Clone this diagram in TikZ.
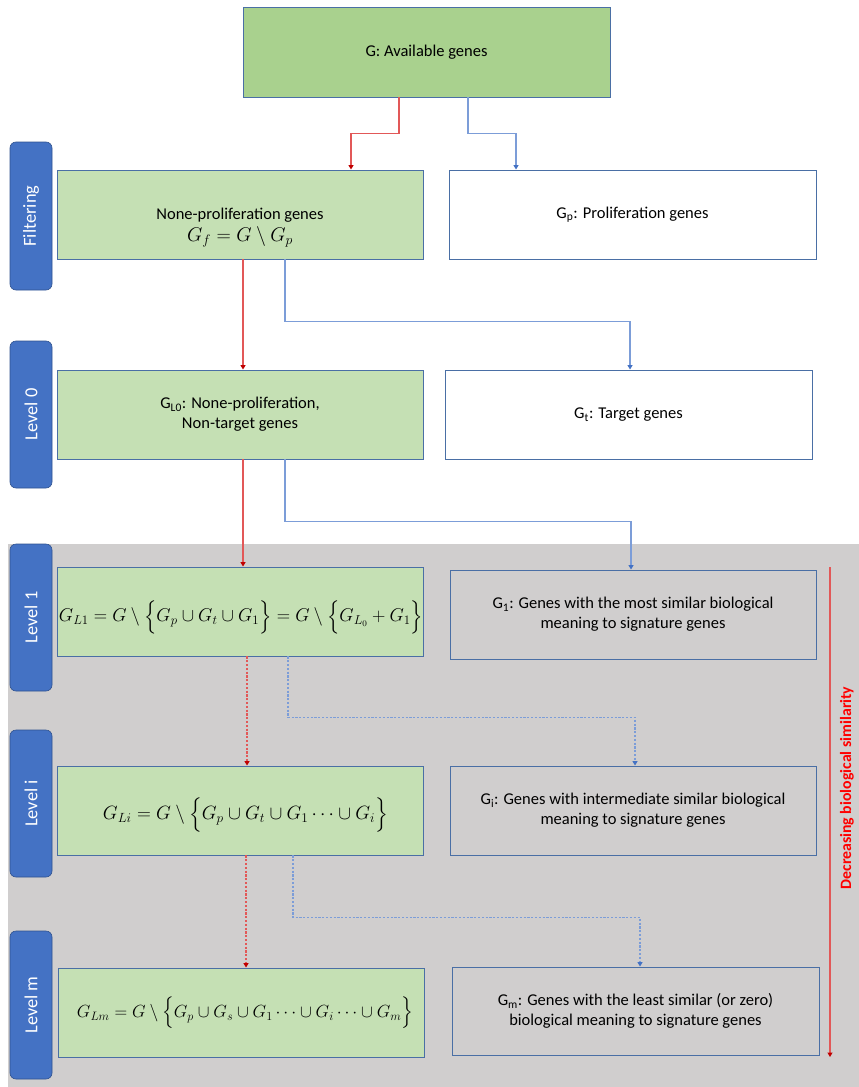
\documentclass[tikz,border=0pt]{standalone}
\usepackage{amsmath}
\usepackage{graphicx}
\usepackage{fontspec}
\setmainfont{Carlito}
\usetikzlibrary{arrows.meta}
\definecolor{boxblue}{HTML}{4A6FA5}
\definecolor{topgreen}{HTML}{A9D18E}
\definecolor{lightgreen}{HTML}{C5E0B4}
\definecolor{tabblue}{HTML}{4472C4}
\definecolor{tabborder}{HTML}{2F528F}
\definecolor{graybg}{HTML}{D0CECE}
\definecolor{redc}{HTML}{E25858}
\definecolor{redtip}{HTML}{C00000}
\definecolor{bluec}{HTML}{7C9DD8}
\definecolor{bluetip}{HTML}{4472C4}
\definecolor{redtext}{HTML}{FF0000}
\begin{document}
\begin{tikzpicture}[x=1pt,y=-1pt,
  gbox/.style={draw=boxblue, line width=0.9pt, inner sep=0pt, align=center,
    minimum width=366pt, minimum height=89pt,
    font=\fontsize{16.5}{20}\selectfont},
  gtop/.style={gbox, fill=topgreen},
  ggreen/.style={gbox, fill=lightgreen},
  gwhite/.style={gbox, fill=white},
  gplain/.style={gbox},
  txt/.style={inner sep=0pt, align=center, font=\fontsize{16.5}{20}\selectfont},
  tab/.style={fill=tabblue, draw=tabborder, line width=0.6pt, rounded corners=6pt,
    rotate=90, minimum height=42pt, inner sep=0pt, text=white,
    font=\fontsize{18.4}{22}\selectfont},
  redarrow/.style={draw=redc, line width=1.1pt, -{Triangle[width=5pt,length=4.5pt,color=redtip]}},
  bluearrow/.style={draw=bluec, line width=1.1pt, -{Triangle[width=5pt,length=4.5pt,color=bluetip]}},
  dotted line/.style={dash pattern=on 2.2pt off 1.6pt}
]
\useasboundingbox (0,0) rectangle (859,1087);
\fill[graybg] (8,544) rectangle (859,1087);

% top box
\node[gtop, minimum width=367pt, minimum height=90pt] (G) at (426.5,52) {G: Available genes};

% tabs
\node[tab, minimum width=148pt] (tF) at (31,216) {Filtering};
\node[tab, minimum width=147pt] (t0) at (31,414.5) {Level 0};
\node[tab, minimum width=147pt] (t1) at (31,617.5) {Level 1};
\node[tab, minimum width=147pt] (ti) at (31,803.5) {Level i};
\node[tab, minimum width=148pt] (tm) at (31,1005) {Level m};

% filtering row
\node[ggreen] (Gf) at (240,214.5) {};
\node[txt] (GfT) at (240,215) {None-proliferation genes};
\node[txt] (GfM) at (240,237) {\resizebox{106pt}{!}{$G_f = G\setminus G_p$}};
\node[gwhite, minimum width=367pt] (Gp) at (632.5,214.5) {G\textsubscript{p}: Proliferation genes};

% level 0
\node[ggreen] (GL0) at (240,414.5) {G\textsubscript{L0}: None-proliferation,\\Non-target genes};
\node[gwhite, minimum width=367pt] (Gt) at (628.5,414.5) {G\textsubscript{t}: Target genes};

% level 1
\node[ggreen] (GL1) at (240,611.5) {};
\node[txt] (GL1M) at (241,617) {\resizebox{364pt}{!}{$G_{L1} = G\setminus \Big\{G_p\cup G_t\cup G_1\Big\} = G\setminus\Big\{G_{L_0}+G_1\Big\}$}};
\node[gplain] (G1) at (633,614.5) {G\textsubscript{1}: Genes with the most similar biological\\meaning to signature genes};

% level i
\node[ggreen] (GLi) at (240,810.5) {};
\node[txt] (GLiM) at (245.5,815) {\resizebox{285pt}{!}{$G_{Li} = G\setminus \Big\{G_p\cup G_t\cup G_1\cdots\cup G_i\Big\}$}};
\node[gplain] (Gi) at (633,810.5) {G\textsubscript{i}: Genes with intermediate similar biological\\meaning to signature genes};

% level m
\node[ggreen] (GLm) at (241,1012.5) {};
\node[txt] (GLmM) at (245,1013) {\resizebox{336pt}{!}{$G_{Lm} = G\setminus \Big\{G_p\cup G_s\cup G_1\cdots\cup G_i\cdots\cup G_m\Big\}$}};
\node[gplain, minimum width=367pt, minimum height=88pt] (Gm) at (635.5,1011) {G\textsubscript{m}: Genes with the least similar (or zero)\\biological meaning to signature genes};

% connectors
\draw[redarrow] ([xshift=-27.5pt]G.south) -- ++(0,36) -| ([xshift=111pt]Gf.north);
\draw[bluearrow] ([xshift=41.5pt]G.south) -- ++(0,36) -| ([xshift=-116.5pt]Gp.north);

\draw[redarrow] ([xshift=3pt]Gf.south) -- ([xshift=3pt]GL0.north);
\draw[bluearrow] ([xshift=45pt]Gf.south) -- ++(0,62) -| ([xshift=1.5pt]Gt.north);

\draw[redarrow] ([xshift=3pt]GL0.south) -- ([xshift=3pt]GL1.north);
\draw[bluearrow] ([xshift=45pt]GL0.south) -- ++(0,62) -| ([xshift=-2pt]G1.north);

\draw[redarrow, dotted line] ([xshift=7pt]GL1.south) -- ([xshift=7pt]GLi.north);
\draw[bluearrow, dotted line] ([xshift=48pt]GL1.south) -- ++(0,61) -| ([xshift=2pt]Gi.north);

\draw[redarrow, dotted line] ([xshift=6pt]GLi.south) -- ([xshift=5pt]GLm.north);
\draw[bluearrow, dotted line] ([xshift=53pt]GLi.south) -- ++(0,62) -| ([xshift=4.5pt]Gm.north);

% decreasing similarity
\coordinate (dTop) at (830,567);
\coordinate (dBot) at (830,1057);
\draw[redarrow] (dTop) -- (dBot);
\node[rotate=90, text=redtext, inner sep=0pt, font=\bfseries\fontsize{15.8}{18}\selectfont] (dec) at (847,788) {Decreasing biological similarity};
\end{tikzpicture}
\end{document}
